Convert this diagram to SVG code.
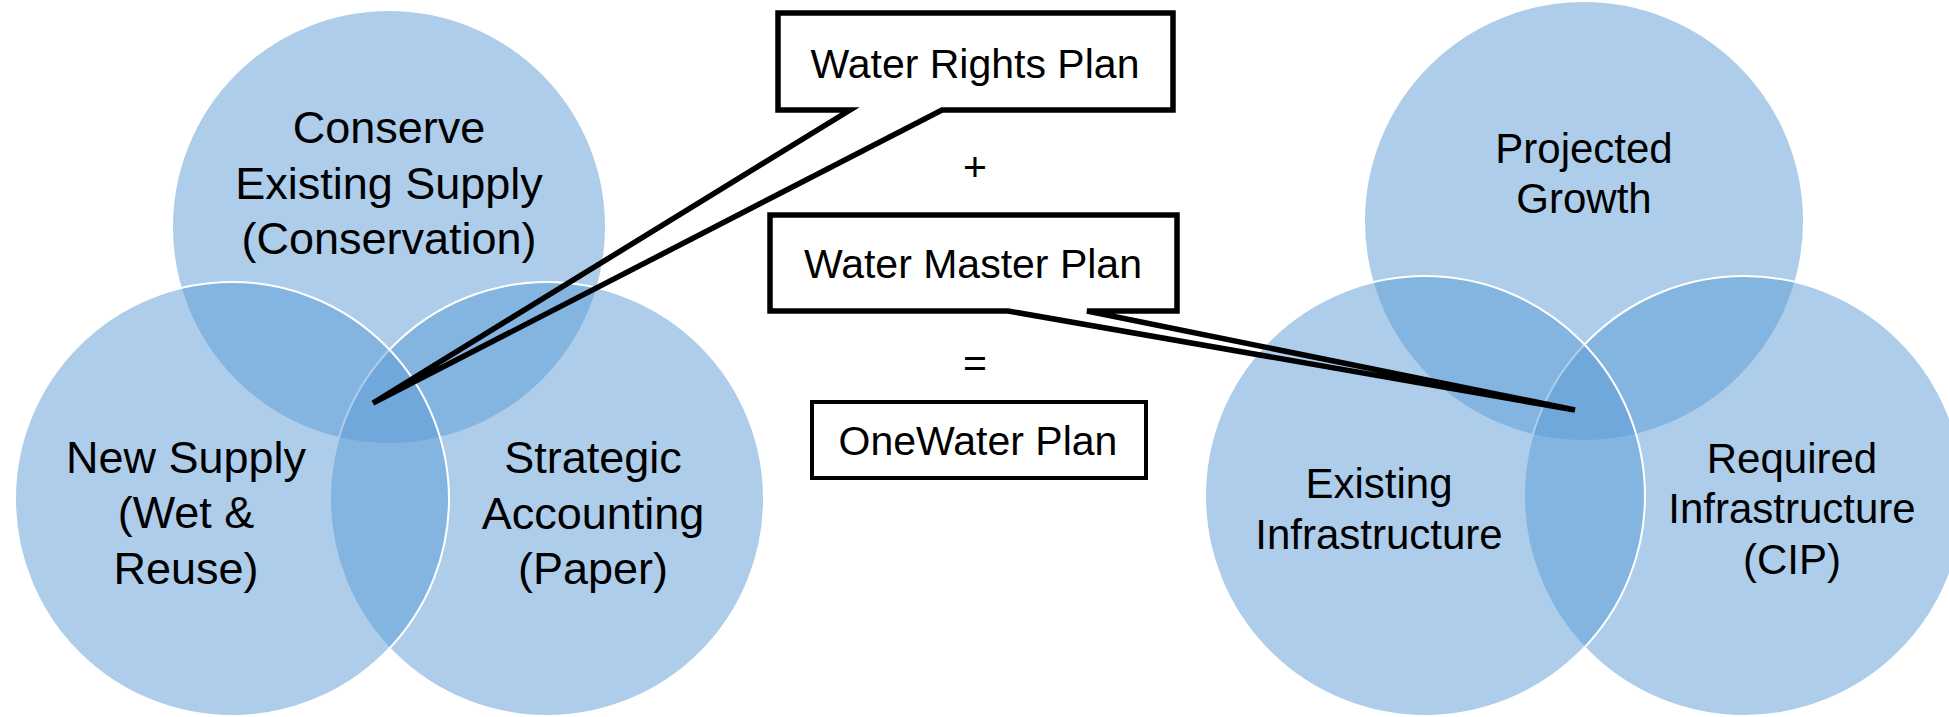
<svg xmlns="http://www.w3.org/2000/svg" width="1949" height="717" viewBox="0 0 1949 717">
<style>
.c{fill:#5B9BD5;fill-opacity:0.5;stroke:#FFFFFF;stroke-width:2}
.t{font-family:"Liberation Sans",Arial,sans-serif;fill:#000;text-anchor:middle}
.v1{font-size:45px}
.v2{font-size:42px}
.b{font-size:41px}
.co{fill:none;stroke:#000;stroke-width:5.5;stroke-linejoin:miter}
</style>
<rect width="1949" height="717" fill="#FFFFFF"/>
<g id="venn-left">
<g id="conserve"><circle class="c" cx="389" cy="227" r="217"/></g>
<g id="strategic"><circle class="c" cx="547" cy="499" r="217"/></g>
<g id="newsupply"><circle class="c" cx="232" cy="499" r="217"/></g>
<text class="t v1"><tspan x="389" y="143">Conserve</tspan><tspan x="389" y="199">Existing Supply</tspan><tspan x="389" y="254">(Conservation)</tspan></text>
<text class="t v1"><tspan x="186" y="473">New Supply</tspan><tspan x="186" y="528">(Wet &amp;</tspan><tspan x="186" y="584">Reuse)</tspan></text>
<text class="t v1"><tspan x="593" y="473">Strategic</tspan><tspan x="593" y="529">Accounting</tspan><tspan x="593" y="584">(Paper)</tspan></text>
</g>
<g id="venn-right">
<g id="projected"><circle class="c" cx="1584" cy="221" r="220"/></g>
<g id="required"><circle class="c" cx="1744" cy="496" r="220"/></g>
<g id="existing"><circle class="c" cx="1425" cy="496" r="220"/></g>
<text class="t v2"><tspan x="1584" y="163">Projected</tspan><tspan x="1584" y="213">Growth</tspan></text>
<text class="t v2"><tspan x="1379" y="498">Existing</tspan><tspan x="1379" y="549">Infrastructure</tspan></text>
<text class="t v2"><tspan x="1792" y="473">Required</tspan><tspan x="1792" y="523">Infrastructure</tspan><tspan x="1792" y="574">(CIP)</tspan></text>
</g>
<g id="connectors">
<path class="co" d="M778,13 H1173 V110 H942 L373,403 L850,110 H778 Z"/>
<path class="co" d="M770,215 H1177 V311 H1087 L1575,410 L1008,311 H770 Z"/>
</g>
<g id="water-rights-plan"><text class="t b" x="975" y="78">Water Rights Plan</text></g>
<g id="plus"><text class="t b" x="975" y="181">+</text></g>
<g id="water-master-plan"><text class="t b" x="973" y="278">Water Master Plan</text></g>
<g id="equals"><text class="t b" x="975" y="377">=</text></g>
<g id="onewater-plan">
<rect x="812" y="402" width="334" height="76" fill="none" stroke="#000" stroke-width="4"/>
<text class="t b" x="978" y="455">OneWater Plan</text>
</g>
</svg>
